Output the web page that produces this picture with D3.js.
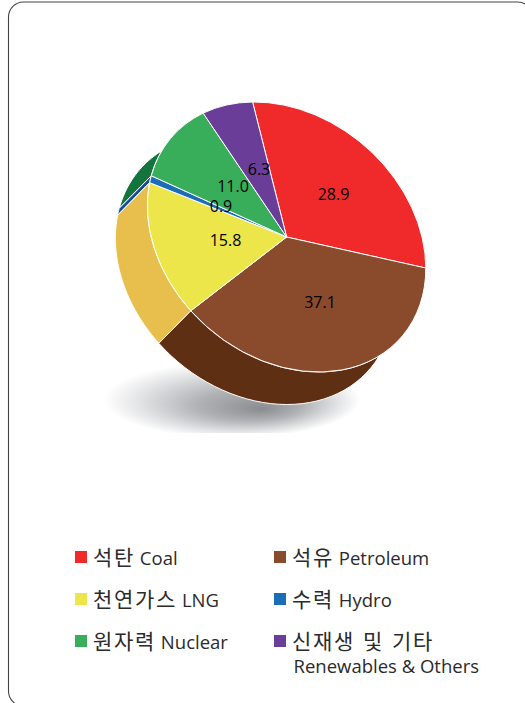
<!DOCTYPE html>
<html><head><meta charset="utf-8">
<script src="https://cdn.jsdelivr.net/npm/d3@7"></script>
<style>html,body{margin:0;padding:0;background:#fff;overflow:hidden}svg{display:block}</style>
</head><body><svg id="c" width="525" height="703"></svg>
<script>
const categories=["Coal","Petroleum","LNG","Hydro","Nuclear","Renewables"];
const values=[28.9,37.1,15.8,0.9,11.0,6.3];
const labels=["28.9","37.1","15.8","0.9","11.0","6.3"];
const topColors=["#F02A2A","#8A4B2C","#ECE64A","#1B6DB7","#38AE5B","#6A3E98"];
const sideColors=["#B01F1F","#5F2F14","#E8BF4D","#124F8C","#14743D","#4A2A6C"];
const legendKo=["석탄","석유","천연가스","수력","원자력","신재생 및 기타"];
const legendEn=["Coal","Petroleum","LNG","Hydro","Nuclear",""];

const FONT='"Open Sans","Noto Sans CJK KR",sans-serif';
const KO='"Noto Sans CJK KR",sans-serif';
const svg=d3.select("#c");
const defs=svg.append("defs");
const g=defs.append("radialGradient").attr("id","sh").attr("cx",.5).attr("cy",.5).attr("r",.5).attr("fx",.62).attr("fy",.62);
g.append("stop").attr("offset","0").attr("stop-color","#8a8c91");
g.append("stop").attr("offset",".4").attr("stop-color","#afb1b4");
g.append("stop").attr("offset",".75").attr("stop-color","#dfe0e2");
g.append("stop").attr("offset","1").attr("stop-color","#ffffff");
defs.append("clipPath").attr("id","shc").append("rect").attr("x",95).attr("y",355).attr("width",280).attr("height",78);

svg.append("rect").attr("x",8.5).attr("y",2).attr("width",524).attr("height",704).attr("rx",15)
 .attr("fill","#fff").attr("stroke","#444").attr("stroke-width",1.1);

svg.append("g").attr("clip-path","url(#shc)").append("ellipse").attr("cx",232).attr("cy",400).attr("rx",128).attr("ry",38).attr("fill","url(#sh)");

// affine map of unit circle (tilted & rotated pie)
const R=100, cx=286.6, cy=237, ux=135, uy=-1.75, vx=34, vy=135, dx=-32, dy=32.5;
const pie=d3.pie().sort(null).value(d=>d);
const arcs=pie(values);
const arc=d3.arc().innerRadius(0).outerRadius(R);
const mapX=a=>cx+ux*Math.sin(a)-vx*Math.cos(a);
const mapY=a=>cy+uy*Math.sin(a)-vy*Math.cos(a);

const sideLine=d3.line();
const sides=svg.append("g");
[0,5,4,3,2,1].forEach(i=>{
  const a=arcs[i];
  const ts=d3.range(0,41).map(k=>a.startAngle+(a.endAngle-a.startAngle)*k/40);
  const front=ts.map(t=>[mapX(t),mapY(t)]);
  const back=ts.slice().reverse().map(t=>[mapX(t)+dx,mapY(t)+dy]);
  sides.append("path").attr("d",sideLine(front.concat(back))+"Z")
    .attr("fill",sideColors[i]).attr("stroke","#fff").attr("stroke-width",1).attr("stroke-linejoin","round");
});

svg.append("g").attr("transform",`matrix(${ux/R},${uy/R},${vx/R},${vy/R},${cx},${cy})`)
 .selectAll("path").data(arcs).join("path")
 .attr("d",arc).attr("fill",(d,i)=>topColors[i])
 .attr("stroke","#fff").attr("stroke-width",1).attr("vector-effect","non-scaling-stroke").attr("stroke-linejoin","round");

const labelPos=[[333.5,194],[320,302],[225.5,240],[221,206],[233,186],[259,169]];
svg.append("g").selectAll("text").data(labels).join("text")
 .attr("x",(d,i)=>labelPos[i][0]).attr("y",(d,i)=>labelPos[i][1])
 .attr("text-anchor","middle").attr("font-family",FONT).attr("font-size",16).attr("fill","#000")
 .attr("dominant-baseline","central").text(d=>d);

const colX=[75,274], rowY=[551,593,635];
const lg=svg.append("g").selectAll("g").data(legendKo).join("g")
 .attr("transform",(d,i)=>`translate(${colX[i%2]},${rowY[Math.floor(i/2)]})`);
lg.append("rect").attr("width",12).attr("height",12).attr("fill",(d,i)=>topColors[i]);
const lt=lg.append("text").attr("x",18).attr("y",14).attr("fill","#2a2a2c").attr("font-family",FONT).attr("font-size",18.5);
lt.append("tspan").attr("font-family",KO).attr("font-size",21).attr("letter-spacing",1.7).attr("word-spacing",1.5).text(d=>d);
lt.append("tspan").text((d,i)=>legendEn[i]?" "+legendEn[i]:"");
svg.append("text").attr("x",293.5).attr("y",673).attr("fill","#2a2a2c").attr("font-family",FONT).attr("font-size",18.5).text("Renewables & Others");
</script></body></html>
